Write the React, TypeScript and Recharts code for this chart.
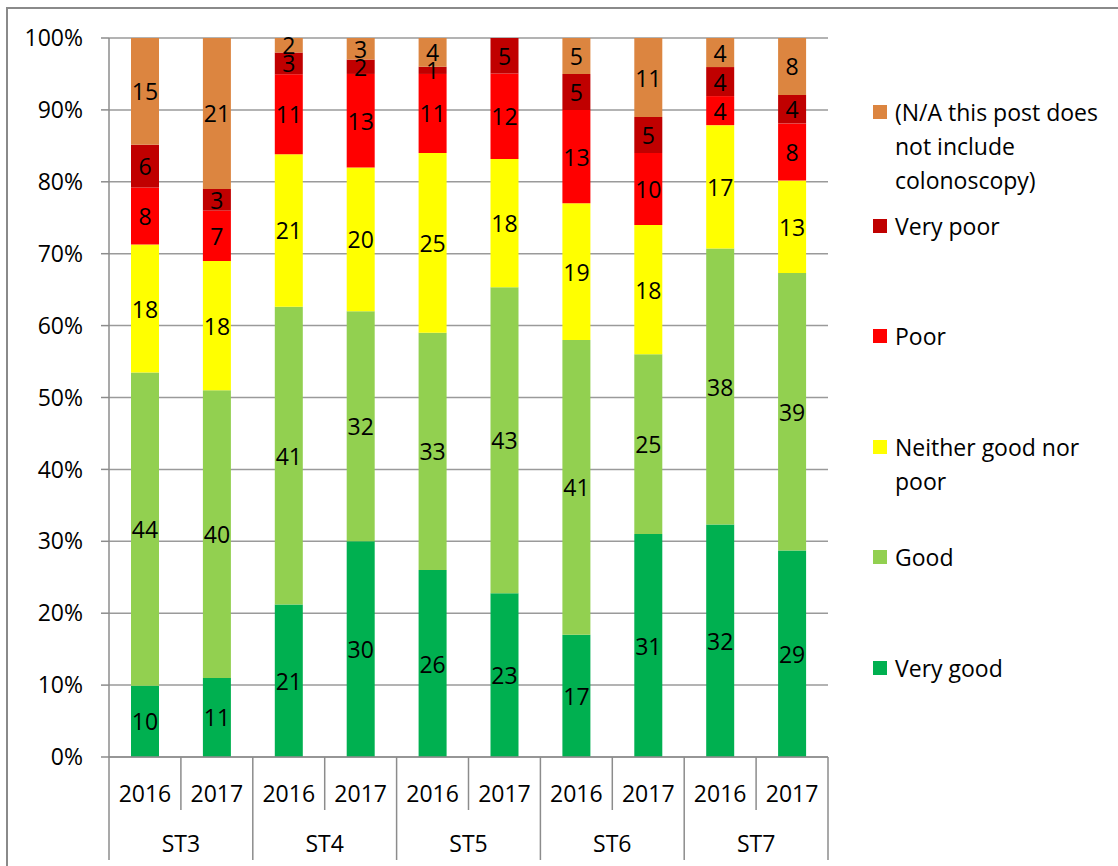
import React from 'react';
import { BarChart, Bar, XAxis, YAxis, CartesianGrid, LabelList } from 'recharts';

const GROUPS = ['ST3', 'ST4', 'ST5', 'ST6', 'ST7'];
const YEARS = ['2016', '2017'];

// percent of respondents per rating (labels shown in the segments)
const VERY_GOOD = [10, 11, 21, 30, 26, 23, 17, 31, 32, 29];
const GOOD = [44, 40, 41, 32, 33, 43, 41, 25, 38, 39];
const NEITHER = [18, 18, 21, 20, 25, 18, 19, 18, 17, 13];
const POOR = [8, 7, 11, 13, 11, 12, 13, 10, 4, 8];
const VERY_POOR = [6, 3, 3, 2, 1, 5, 5, 5, 4, 4];
const NOT_APPLICABLE = [15, 21, 2, 3, 4, 0, 5, 11, 4, 8];

const Y_TICKS = [0, 0.1, 0.2, 0.3, 0.4, 0.5, 0.6, 0.7, 0.8, 0.9, 1];

const SERIES = [
  { key: 'veryGood', name: 'Very good', color: '#00B050', values: VERY_GOOD },
  { key: 'good', name: 'Good', color: '#92D050', values: GOOD },
  { key: 'neither', name: 'Neither good nor\npoor', color: '#FFFF00', values: NEITHER },
  { key: 'poor', name: 'Poor', color: '#FF0000', values: POOR },
  { key: 'veryPoor', name: 'Very poor', color: '#C00000', values: VERY_POOR },
  { key: 'na', name: '(N/A this post does\nnot include\ncolonoscopy)', color: '#DC8540', values: NOT_APPLICABLE },
];

const data = GROUPS.flatMap((g, gi) =>
  YEARS.map((yr, yi) => {
    const i = gi * YEARS.length + yi;
    const row: any = { cat: `${g}-${yr}`, group: g, year: yr };
    SERIES.forEach((s) => (row[s.key] = s.values[i]));
    return row;
  })
);

const CHART_W = 1118;
const CHART_H = 866;
const MARGIN = { top: 38, right: 290, left: 0, bottom: 0 };
const Y_AXIS_W = 109;
const X_AXIS_H = 109;
const PLOT_BOTTOM = CHART_H - MARGIN.bottom - X_AXIS_H;
const HALF_BAND = (CHART_W - MARGIN.left - MARGIN.right - Y_AXIS_W) / data.length / 2;
const FONT = '"Open Sans", sans-serif';
const FONT_SIZE = 23;
const AXIS_GRAY = '#8c8c8c';

const XTick = (props: any) => {
  const { x, index, payload } = props;
  const row = data[index] ?? data.find((d) => d.cat === payload?.value);
  const right = x + HALF_BAND;
  const isGroupEnd = index % 2 === 1;
  return (
    <g>
      {index === 0 && (
        <line x1={x - HALF_BAND} x2={x - HALF_BAND} y1={PLOT_BOTTOM} y2={PLOT_BOTTOM + 103} stroke={AXIS_GRAY} strokeWidth={1.5} />
      )}
      <line x1={right} x2={right} y1={PLOT_BOTTOM} y2={PLOT_BOTTOM + (isGroupEnd ? 103 : 53)} stroke={AXIS_GRAY} strokeWidth={1.5} />
      <text x={x} y={PLOT_BOTTOM + 36} textAnchor="middle" dominantBaseline="central" fontSize={FONT_SIZE} fontFamily={FONT} fill="#000">
        {row?.year}
      </text>
      {!isGroupEnd && (
        <text x={right} y={PLOT_BOTTOM + 86} textAnchor="middle" dominantBaseline="central" fontSize={FONT_SIZE} fontFamily={FONT} fill="#000">
          {row?.group}
        </text>
      )}
    </g>
  );
};

const SegmentLabel = (props: any) => {
  const { x, y, width, height, value } = props;
  if (!value) return null;
  return (
    <text x={x + width / 2} y={y + height / 2} textAnchor="middle" dominantBaseline="central" fontSize={FONT_SIZE} fontFamily={FONT} fill="#000">
      {value}
    </text>
  );
};

// legend tops as laid out in the original (first text line)
const LEGEND_TOPS: Record<string, number> = { na: 95, veryPoor: 209, poor: 319, neither: 430, good: 540, veryGood: 651 };

export default function App() {
  return (
    <div style={{ position: 'absolute', left: 0, top: 0, width: CHART_W, height: CHART_H, background: '#fff', overflow: 'hidden' }}>
      <div style={{ position: 'absolute', left: 6, top: 7, right: -4, bottom: -4, borderLeft: '2px solid #8a8a8a', borderTop: '2px solid #8a8a8a' }} />
      <div style={{ position: 'absolute', left: 0, top: 0 }}>
        <BarChart width={CHART_W} height={CHART_H} data={data} margin={MARGIN} stackOffset="expand" barSize={28}>
          <CartesianGrid horizontal vertical={false} stroke="#9a9a9a" strokeWidth={1.5} />
          <XAxis dataKey="cat" interval={0} height={X_AXIS_H} tickLine={false} axisLine={{ stroke: AXIS_GRAY, strokeWidth: 1.5 }} tick={<XTick />} />
          <YAxis
            width={Y_AXIS_W}
            domain={[0, 1]}
            ticks={Y_TICKS}
            tickFormatter={(v: number) => `${Math.round(v * 100)}%`}
            tickSize={8}
            tickMargin={18}
            axisLine={{ stroke: AXIS_GRAY, strokeWidth: 1.5 }}
            tickLine={{ stroke: AXIS_GRAY, strokeWidth: 1.5 }}
            tick={{ fill: '#000', fontSize: FONT_SIZE, fontFamily: FONT }}
          />
          {SERIES.map((s) => (
            <Bar key={s.key} dataKey={s.key} name={s.name} stackId="a" fill={s.color} isAnimationActive={false}>
              <LabelList dataKey={s.key} content={<SegmentLabel />} />
            </Bar>
          ))}
        </BarChart>
      </div>
      {SERIES.map((s) => (
        <div key={s.key} style={{ position: 'absolute', left: 873, top: LEGEND_TOPS[s.key], fontFamily: FONT, fontSize: FONT_SIZE, lineHeight: '34px', color: '#000' }}>
          <div style={{ position: 'absolute', left: 0, top: 10, width: 14, height: 14, background: s.color }} />
          <div style={{ marginLeft: 22, whiteSpace: 'pre' }}>{s.name}</div>
        </div>
      ))}
    </div>
  );
}
